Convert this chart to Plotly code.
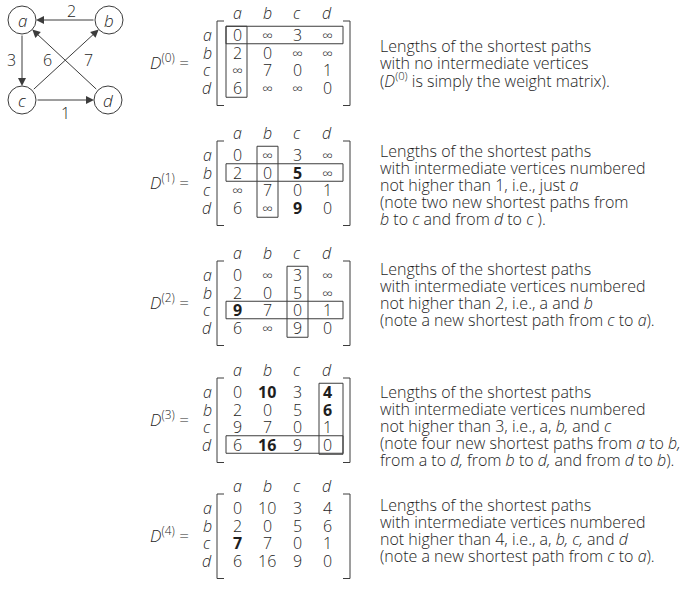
import plotly.graph_objects as go

# ---------------- data ----------------
INF = "∞"
vertices = ["a", "b", "c", "d"]

D0 = [[0, INF, 3, INF], [2, 0, INF, INF], [INF, 7, 0, 1], [6, INF, INF, 0]]
D1 = [[0, INF, 3, INF], [2, 0, 5, INF], [INF, 7, 0, 1], [6, INF, 9, 0]]
D2 = [[0, INF, 3, INF], [2, 0, 5, INF], [9, 7, 0, 1], [6, INF, 9, 0]]
D3 = [[0, 10, 3, 4], [2, 0, 5, 6], [9, 7, 0, 1], [6, 16, 9, 0]]
D4 = [[0, 10, 3, 4], [2, 0, 5, 6], [7, 7, 0, 1], [6, 16, 9, 0]]
matrices = [D0, D1, D2, D3, D4]

# newly improved entries (shown in bold)
new_cells = [[], [(1, 2), (3, 2)], [(2, 0)], [(0, 1), (0, 3), (1, 3), (3, 1)], [(2, 0)]]

# graph edges: (from, to, weight)
edges = [("b", "a", 2), ("a", "c", 3), ("c", "d", 1), ("c", "b", 7), ("d", "a", 6)]

descriptions = [
    ["Lengths of the shortest paths",
     "with no intermediate vertices",
     "(<i>D</i><sup>(0)</sup> is simply the weight matrix)."],
    ["Lengths of the shortest paths",
     "with intermediate vertices numbered",
     "not higher than 1, i.e., just <i>a</i>",
     "(note two new shortest paths from",
     "<i>b</i> to <i>c</i> and from <i>d</i> to <i>c</i> )."],
    ["Lengths of the shortest paths",
     "with intermediate vertices numbered",
     "not higher than 2, i.e., a and <i>b</i>",
     "(note a new shortest path from <i>c</i> to <i>a</i>)."],
    ["Lengths of the shortest paths",
     "with intermediate vertices numbered",
     "not higher than 3, i.e., a, <i>b,</i> and <i>c</i>",
     "(note four new shortest paths from <i>a</i> to <i>b,</i>",
     "from a to <i>d,</i> from <i>b</i> to <i>d,</i> and from <i>d</i> to <i>b</i>)."],
    ["Lengths of the shortest paths",
     "with intermediate vertices numbered",
     "not higher than 4, i.e., a, <i>b, c,</i> and <i>d</i>",
     "(note a new shortest path from <i>c</i> to <i>a</i>)."],
]

# ---------------- layout / style ----------------
FONT = "Open Sans, DejaVu Sans, sans-serif"
TXT = "#1e1e1e"
LINE = "#3c3c3c"

node_pos = {"a": (22, 20), "b": (109, 20), "c": (22, 100), "d": (108, 100)}
node_r = 14
edge_label_pos = {("b", "a"): (71, 11), ("a", "c"): (11, 60), ("c", "d"): (65, 113),
                  ("c", "b"): (88, 60), ("d", "a"): (47, 60)}

col_x = [237, 267, 297, 327]
row_label_x = 207
row_step = 17.5
mat_top = [35, 155, 275, 392, 508]
bracket_l, bracket_r, tick = 217, 350, 7
col_box = [(226, 247), (257, 278), (287, 308), (319, 343)]
row_box = (226, 343)
label_right_x = 191
text_x = 378
text_first = [46, 151, 269, 392, 505]
text_step = 16.9

shapes, annos = [], []

def txt(x, y, s, size=15, xanchor="center", color=TXT):
    annos.append(dict(x=x, y=y, xref="x", yref="y", text=s, showarrow=False,
                      xanchor=xanchor, yanchor="middle",
                      font=dict(family=FONT, size=size, color=color, weight=300)))

def line(x0, y0, x1, y1, w=1):
    shapes.append(dict(type="line", xref="x", yref="y", x0=x0, y0=y0, x1=x1, y1=y1,
                       line=dict(color=LINE, width=w)))

def rect(x0, y0, x1, y1, w=1):
    shapes.append(dict(type="rect", xref="x", yref="y", x0=x0, y0=y0, x1=x1, y1=y1,
                       line=dict(color=LINE, width=w), fillcolor="rgba(0,0,0,0)"))

# ----- graph -----
for v, (cx, cy) in node_pos.items():
    shapes.append(dict(type="circle", xref="x", yref="y", x0=cx - node_r, y0=cy - node_r,
                       x1=cx + node_r, y1=cy + node_r, line=dict(color=LINE, width=1)))
    txt(cx, cy, f"<i>{v}</i>", size=17)

for (u, v, w) in edges:
    (ux, uy), (vx, vy) = node_pos[u], node_pos[v]
    annos.append(dict(x=vx, y=vy, ax=ux, ay=uy, xref="x", yref="y", axref="x", ayref="y",
                      text="", showarrow=True, arrowhead=2, arrowsize=1.6, arrowwidth=1,
                      arrowcolor=LINE, standoff=node_r, startstandoff=node_r))
    lx, ly = edge_label_pos[(u, v)]
    txt(lx, ly, str(w), size=16)

# ----- matrices -----
for k, M in enumerate(matrices):
    y0 = mat_top[k]
    rows_y = [y0 + i * row_step for i in range(len(vertices))]
    for j, v in enumerate(vertices):
        txt(col_x[j], y0 - 22.5, f"<i>{v}</i>", size=16)
    for i, v in enumerate(vertices):
        txt(row_label_x, rows_y[i], f"<i>{v}</i>", size=16)
        for j in range(len(vertices)):
            val = M[i][j]
            s = str(val)
            if (i, j) in new_cells[k]:
                s = f"<b>{s}</b>"
            txt(col_x[j], rows_y[i], s, size=15 if val == INF else 16)
    top, bot = y0 - 14, rows_y[-1] + 18
    line(bracket_l, top, bracket_l, bot)
    line(bracket_l, top, bracket_l + tick, top)
    line(bracket_l, bot, bracket_l + tick, bot)
    line(bracket_r, top, bracket_r, bot)
    line(bracket_r - tick, top, bracket_r, top)
    line(bracket_r - tick, bot, bracket_r, bot)
    if k < len(vertices):
        ry = rows_y[k]
        rect(row_box[0], ry - row_step / 2, row_box[1], ry + row_step / 2)
        cx0, cx1 = col_box[k]
        rect(cx0, y0 - row_step / 2, cx1, rows_y[-1] + row_step / 2 + 1)
    txt(label_right_x, (rows_y[0] + rows_y[-1]) / 2, f"<i>D</i><sup>({k})</sup> =",
        size=17, xanchor="right")
    for n, s in enumerate(descriptions[k]):
        txt(text_x, text_first[k] + n * text_step, s, size=16, xanchor="left")

fig = go.Figure()
fig.update_layout(
    width=695, height=600, autosize=False,
    margin=dict(l=0, r=0, t=0, b=0, pad=0),
    paper_bgcolor="white", plot_bgcolor="white",
    xaxis=dict(range=[0, 695], visible=False, fixedrange=True),
    yaxis=dict(range=[600, 0], visible=False, fixedrange=True),
    shapes=shapes, annotations=annos, showlegend=False,
)
fig.write_html("out.html", config={"displayModeBar": False},
               post_script="document.body.style.margin='0';")
